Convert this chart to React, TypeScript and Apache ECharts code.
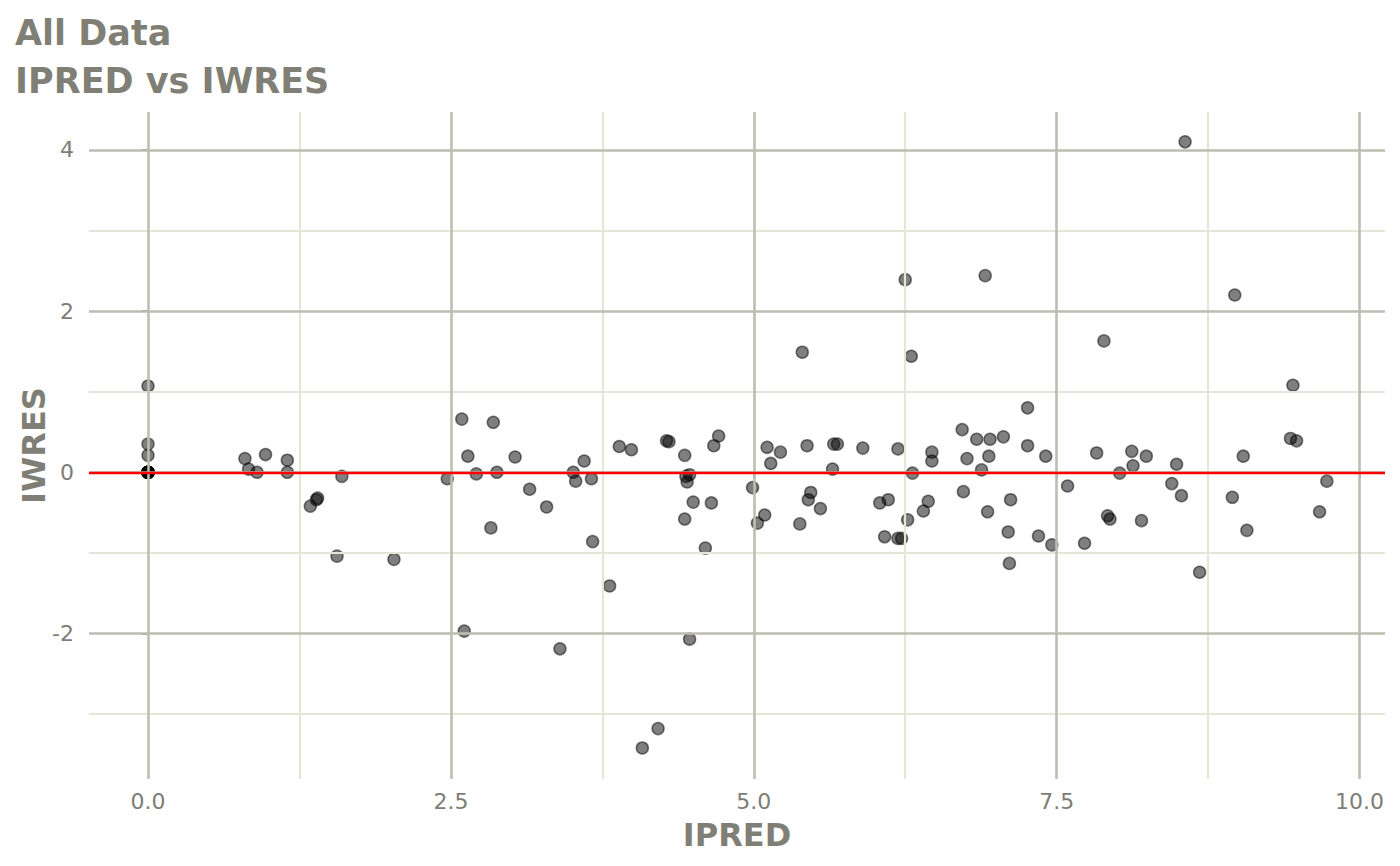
import React from 'react';
import * as echarts from 'echarts';

// IPRED / IWRES pairs
const ipred: number[] = [
  0, 0, 0, 0, 0, 0, 0, 0, 0, 0, 0,
  0.80, 0.83, 0.90, 0.97, 1.15, 1.15, 1.34, 1.39, 1.40, 1.60,
  1.56, 2.03, 2.47, 2.59, 2.85, 2.64, 2.71, 2.88, 3.03, 3.15,
  2.83, 2.61, 3.29, 3.40, 3.51, 3.53, 3.60, 3.66, 3.67, 3.81,
  3.89, 3.99, 4.08, 4.21, 4.28, 4.30, 4.43, 4.43, 4.44, 4.45,
  4.47, 4.47, 4.50, 4.60, 4.65, 4.67, 4.71, 4.99, 5.03, 5.09,
  5.11, 5.14, 5.22, 5.38, 5.40, 5.44, 5.45, 5.47, 5.55, 5.66,
  5.65, 5.69, 5.90, 6.04, 6.08, 6.11, 6.19, 6.19, 6.22, 6.25,
  6.27, 6.30, 6.31, 6.40, 6.44, 6.47, 6.47, 6.72, 6.73, 6.76,
  6.84, 6.88, 6.91, 6.93, 6.94, 6.95, 7.06, 7.10, 7.11, 7.12,
  7.26, 7.26, 7.35, 7.41, 7.46, 7.59, 7.73, 7.83, 7.89, 7.92,
  7.94, 8.02, 8.12, 8.13, 8.20, 8.24, 8.45, 8.49, 8.53, 8.56,
  8.68, 8.95, 8.97, 9.04, 9.07, 9.43, 9.45, 9.48, 9.67, 9.73,
];

const iwres: number[] = [
  1.07, 0.35, 0.21, 0, 0, 0, 0, 0, 0, 0, 0,
  0.17, 0.04, 0.00, 0.22, 0.15, 0.00, -0.42, -0.34, -0.32, -0.05,
  -1.04, -1.08, -0.08, 0.66, 0.62, 0.20, -0.02, 0.00, 0.19, -0.21,
  -0.69, -1.97, -0.43, -2.19, 0.00, -0.11, 0.14, -0.08, -0.86, -1.41,
  0.32, 0.28, -3.42, -3.18, 0.39, 0.38, 0.21, -0.58, -0.05, -0.12,
  -0.03, -2.07, -0.37, -0.94, -0.38, 0.33, 0.45, -0.19, -0.63, -0.53,
  0.31, 0.11, 0.25, -0.64, 1.49, 0.33, -0.34, -0.25, -0.45, 0.35,
  0.04, 0.35, 0.30, -0.38, -0.80, -0.34, -0.82, 0.29, -0.82, 2.39,
  -0.59, 1.44, -0.01, -0.48, -0.36, 0.25, 0.14, 0.53, -0.24, 0.17,
  0.41, 0.03, 2.44, -0.49, 0.20, 0.41, 0.44, -0.74, -1.13, -0.34,
  0.80, 0.33, -0.79, 0.20, -0.90, -0.17, -0.88, 0.24, 1.63, -0.54,
  -0.58, -0.01, 0.26, 0.08, -0.60, 0.20, -0.14, 0.10, -0.29, 4.10,
  -1.24, -0.31, 2.20, 0.20, -0.72, 0.42, 1.08, 0.39, -0.49, -0.11,
];

const xMajor = [0, 2.5, 5, 7.5, 10];
const xMinor = [1.25, 3.75, 6.25, 8.75];
const yMajor = [-2, 0, 2, 4];
const yMinor = [-3, -1, 1, 3];

const FONT = 'DejaVu Sans';
const TITLE_COLOR = '#7f7f76';
const TICK_COLOR = '#7d7d74';
const MAJOR_GRID = '#bdbdb1';
const MINOR_GRID = '#e5e5d8';

const App: React.FC = () => {
  const chartRef = React.useRef<HTMLDivElement>(null);

  React.useEffect(() => {
    if (!chartRef.current) return;
    const chart = echarts.init(chartRef.current, undefined, { renderer: 'svg' });

    const gridLine = (color: string, width: number) => ({
      silent: true,
      symbol: 'none',
      label: { show: false },
      emphasis: { disabled: true },
      lineStyle: { color, width, type: 'solid' },
    });

    const option = {
      animation: false,
      backgroundColor: '#ffffff',
      title: [
        {
          text: 'All Data',
          left: 15,
          top: 15,
          padding: 0,
          textStyle: { fontFamily: FONT, fontSize: 35, fontWeight: 'bold', color: TITLE_COLOR },
        },
        {
          text: 'IPRED vs IWRES',
          left: 15,
          top: 63,
          padding: 0,
          textStyle: { fontFamily: FONT, fontSize: 35, fontWeight: 'bold', color: TITLE_COLOR },
        },
      ],
      grid: { left: 89, right: 15, top: 112, bottom: 87 },
      xAxis: {
        type: 'value',
        min: -0.487,
        max: 10.21,
        name: 'IPRED',
        nameLocation: 'middle',
        nameGap: 40,
        nameTextStyle: { fontFamily: FONT, fontSize: 32, fontWeight: 'bold', color: TITLE_COLOR },
        axisLine: { show: false },
        splitLine: { show: false },
        axisTick: {
          show: true,
          length: 6,
          customValues: xMajor,
          lineStyle: { color: TICK_COLOR, width: 2 },
        },
        axisLabel: {
          customValues: xMajor,
          margin: 11,
          fontFamily: FONT,
          fontSize: 22,
          color: TICK_COLOR,
          formatter: (v: number) => v.toFixed(1),
        },
      },
      yAxis: {
        type: 'value',
        min: -3.805,
        max: 4.47,
        name: 'IWRES',
        nameLocation: 'middle',
        nameGap: 39,
        nameMoveOverlap: false,
        nameTextStyle: { fontFamily: FONT, fontSize: 32, fontWeight: 'bold', color: TITLE_COLOR },
        axisLine: { show: false },
        splitLine: { show: false },
        axisTick: {
          show: true,
          length: 6,
          customValues: yMajor,
          lineStyle: { color: TICK_COLOR, width: 2 },
        },
        axisLabel: {
          customValues: yMajor,
          margin: 15,
          fontFamily: FONT,
          fontSize: 22,
          color: TICK_COLOR,
          formatter: (v: number) => String(v),
        },
      },
      series: [
        {
          type: 'scatter',
          data: [],
          z: 1,
          markLine: {
            ...gridLine(MINOR_GRID, 2.2),
            data: [
              ...xMinor.map((v) => ({ xAxis: v })),
              ...yMinor.map((v) => ({ yAxis: v })),
            ],
          },
        },
        {
          type: 'scatter',
          data: [],
          z: 2,
          markLine: {
            ...gridLine(MAJOR_GRID, 2.6),
            data: [
              ...xMajor.map((v) => ({ xAxis: v })),
              ...yMajor.map((v) => ({ yAxis: v })),
            ],
          },
        },
        {
          type: 'scatter',
          data: [],
          z: 3,
          markLine: {
            silent: true,
            symbol: 'none',
            label: { show: false },
            emphasis: { disabled: true },
            lineStyle: { color: '#ff0000', width: 2.4, type: 'solid' },
            data: [{ yAxis: 0 }],
          },
        },
        {
          type: 'scatter',
          z: 4,
          symbolSize: 12,
          silent: true,
          data: ipred.map((x, i) => [x, iwres[i]]),
          itemStyle: {
            color: 'rgba(0,0,0,0.5)',
            borderColor: 'rgba(0,0,0,0.5)',
            borderWidth: 1.5,
            opacity: 1,
          },
        },
      ],
    };

    chart.setOption(option);
    return () => {
      chart.dispose();
    };
  }, []);

  return (
    <div
      ref={chartRef}
      style={{ position: 'fixed', left: 0, top: 0, width: '1400px', height: '866px' }}
    />
  );
};

export default App;
